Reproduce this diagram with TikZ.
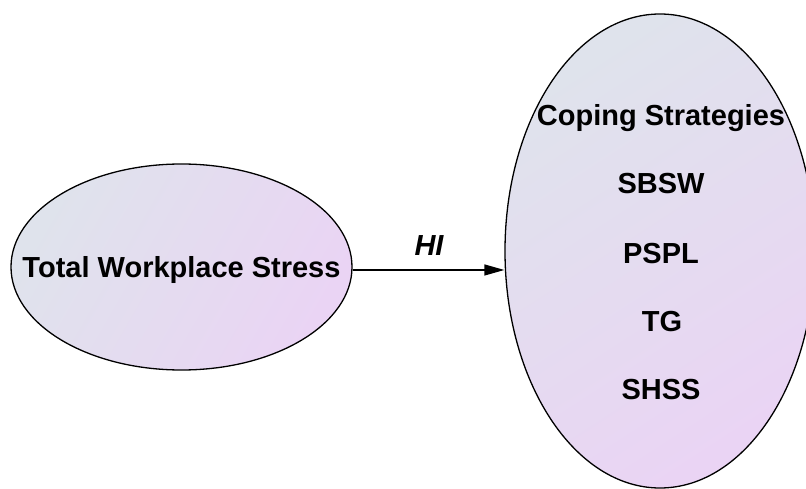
\documentclass[tikz,border=0pt]{standalone}
\usepackage{fontspec}
\setmainfont{Liberation Sans}
\usetikzlibrary{shapes.geometric,arrows.meta}
\definecolor{shadeA}{RGB}{223,227,236}
\definecolor{shadeB}{RGB}{234,212,244}
\begin{document}
\begin{tikzpicture}[x=1pt,y=-1pt,
  bubble/.style={ellipse,draw=black,line width=1.3pt,inner sep=0pt,
    left color=shadeA,right color=shadeB},
  label/.style={font=\fontsize{29}{35}\selectfont\bfseries,inner sep=0pt,anchor=base},
  link/.style={line width=1.3pt,-{Triangle[length=20pt,width=11pt]}}]
  \useasboundingbox (0,0) rectangle (806,489);
  % stress construct
  \node[bubble,shading angle=60,minimum width=341pt,minimum height=206pt] (stress) at (181.5,267) {};
  \node[label] (stressT) at (181.5,277) {Total Workplace Stress};
  % coping construct and its dimensions
  \node[bubble,shading angle=33,minimum width=310pt,minimum height=474pt] (coping) at (660,251) {};
  \node[label] (copT) at (661,126) {Coping Strategies};
  \node[label] (sbsw) at (661,194) {SBSW};
  \node[label] (pspl) at (661,263) {PSPL};
  \node[label] (tg)   at (662,331) {TG};
  \node[label] (shss) at (661,399) {SHSS};
  % relation
  \coordinate (tail) at (stress.-1);
  \coordinate (tip) at (tail -| coping.west);
  \draw[link] (tail) -- (tip);
  \node[label,font=\fontsize{29}{35}\selectfont\bfseries\itshape] (hi) at (429,255) {HI};
\end{tikzpicture}
\end{document}
